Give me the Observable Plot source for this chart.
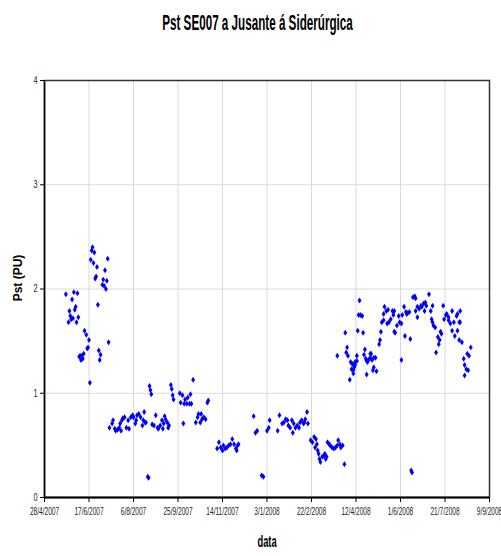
<!DOCTYPE html>
<html>
<head>
<meta charset="utf-8">
<script src="https://cdn.jsdelivr.net/npm/d3@7"></script>
<script src="https://cdn.jsdelivr.net/npm/@observablehq/plot@0.6"></script>
<style>
  body { margin: 0; background: #fff; }
</style>
</head>
<body>
<div id="chart"></div>
<script>
// Daily Pst readings, SE007 downstream of the steel mill.
// Days are counted from the first day of the campaign (28/4/2007).
const startDate = "2007-04-28";

// May – Jul 2007
const dayA = [24,27,28,29,30,31,32,33,34,35,36,37,38,39,40,41,42,43,44,45,47,48,49,50,51,52,53,54,55,56,57,58,59,60,61,62,63,65,66,67,68,69,70,71,72];
const pstA = [1.95,1.68,1.79,1.74,1.71,1.90,1.72,1.97,1.80,1.83,1.68,1.96,1.73,1.35,1.36,1.32,1.36,1.33,1.38,1.60,1.56,1.43,1.44,1.51,1.10,2.28,2.37,2.40,2.25,2.35,2.10,2.12,2.21,1.85,1.41,1.32,1.37,2.04,2.09,2.03,2.18,2.00,2.08,2.29,1.49];

// Jul – Oct 2007
const dayB = [73,76,77,79,80,82,84,85,86,87,88,90,92,94,95,97,99,100,102,103,104,106,108,110,111,112,113,114,116,117,118,119,120,121,123,125,127,128,130,132,133,134,135,136,138,139,140,142,143,144,145,152,153,155,156,157,158,160,161,163,164,165,167,170,172,173,175,176,177,179,181,183,184];
const pstB = [0.67,0.71,0.74,0.66,0.64,0.65,0.67,0.71,0.64,0.74,0.76,0.77,0.67,0.74,0.66,0.77,0.79,0.77,0.71,0.74,0.79,0.80,0.77,0.69,0.74,0.82,0.72,0.72,0.20,0.19,1.07,1.03,0.99,0.70,0.69,0.79,0.67,0.66,0.69,0.74,0.66,0.71,0.78,0.75,0.72,0.67,0.69,1.08,1.04,0.98,0.94,1.00,0.91,0.98,0.71,0.90,0.94,0.90,0.96,0.90,0.99,0.90,1.13,0.72,0.77,0.80,0.72,0.80,0.75,0.77,0.75,0.91,0.93];

// Nov 2007 – Mar 2008
const dayC = [194,196,198,200,201,203,205,207,209,211,213,215,216,217,218,235,237,239,244,246,250,252,253,262,264,267,269,271,273,274,276,278,279,280,282,284,286,287,289,291,292,293,295,296,299,301,303,304,305,306,307,308,309,310,312,314,315,316,317,318,320,321,323,325,327,329,330,332,333,335,337];
const pstC = [0.47,0.53,0.48,0.45,0.50,0.47,0.48,0.50,0.51,0.56,0.51,0.47,0.45,0.50,0.51,0.78,0.62,0.64,0.21,0.20,0.64,0.67,0.74,0.64,0.79,0.71,0.72,0.75,0.74,0.69,0.67,0.74,0.62,0.71,0.67,0.69,0.67,0.72,0.74,0.71,0.72,0.75,0.82,0.71,0.55,0.53,0.58,0.48,0.56,0.51,0.45,0.42,0.37,0.34,0.39,0.40,0.42,0.37,0.39,0.53,0.51,0.50,0.48,0.47,0.48,0.50,0.55,0.51,0.48,0.50,0.32];

// Mar – Aug 2008
const dayD = [329,338,339,340,341,343,344,345,346,347,347,348,349,349,351,351,352,353,354,355,357,358,359,360,361,362,362,363,364,366,366,367,368,369,370,370,372,373,376,377,378,379,381,381,382,384,385,386,387,389,391,392,393,393,394,396,398,399,401,401,402,404,405,406,407,408,410,411,412,413,414,416,417,417,419,419,421,423,424,426,427,428,429,432,434,435,436,436,437,439,440,442,443,444,445,446,448,449,451,452,454,454,456,458,458,460,461,463,464,464,466,466,467,467,469,471,472,472,474,475,476,477,479];
const pstD = [1.36,1.58,1.39,1.44,1.36,1.13,1.30,1.23,1.28,1.22,1.19,1.25,1.27,1.30,1.31,1.36,1.60,1.75,1.89,1.75,1.74,1.58,1.37,1.42,1.33,1.31,1.18,1.30,1.32,1.34,1.38,1.38,1.32,1.22,1.34,1.25,1.34,1.21,1.47,1.51,1.59,1.68,1.70,1.76,1.83,1.79,1.67,1.80,1.68,1.71,1.79,1.75,1.79,1.59,1.58,1.65,1.74,1.68,1.67,1.32,1.75,1.83,1.55,1.78,1.76,1.77,1.78,1.52,0.26,0.24,1.92,1.93,1.91,1.79,1.83,1.73,1.81,1.84,1.83,1.86,1.79,1.87,1.84,1.95,1.79,1.71,1.84,1.68,1.65,1.63,1.39,1.54,1.47,1.51,1.59,1.57,1.84,1.71,1.75,1.76,1.73,1.70,1.67,1.60,1.79,1.68,1.55,1.74,1.76,1.60,1.68,1.51,1.79,1.68,1.49,1.33,1.27,1.17,1.23,1.38,1.22,1.36,1.44];

// Axis ticks
const xTickLabels = ["28/4/2007","17/6/2007","6/8/2007","25/9/2007","14/11/2007","3/1/2008","22/2/2008","12/4/2008","1/6/2008","21/7/2008","9/9/2008"];
const yTicks = [0, 1, 2, 3, 4];

const titleText = "Pst SE007 a Jusante á Siderúrgica";
const xLabel = "data";
const yLabel = "Pst (PU)";

const parseDMY = (s) => { const [d, m, y] = s.split("/").map(Number); return new Date(Date.UTC(y, m - 1, d)); };
const fmtDMY = (d) => `${d.getUTCDate()}/${d.getUTCMonth() + 1}/${d.getUTCFullYear()}`;
const start = new Date(startDate + "T00:00:00Z");
const xTicks = xTickLabels.map(parseDMY);

const rows = [];
for (const [days, vals] of [[dayA, pstA], [dayB, pstB], [dayC, pstC], [dayD, pstD]]) {
  days.forEach((n, i) => rows.push({date: d3.utcDay.offset(start, n), pst: vals[i]}));
}

// Narrow, tall diamond marker
const tallDiamond = {
  draw(context, size) {
    const r = Math.sqrt(size / Math.PI);
    const w = r * 0.75, h = r * 1.15;
    context.moveTo(0, -h);
    context.lineTo(w, 0);
    context.lineTo(0, h);
    context.lineTo(-w, 0);
    context.closePath();
  }
};

const font = "'Liberation Sans', Arial, sans-serif";

const chart = Plot.plot({
  width: 501,
  height: 556,
  marginLeft: 44,
  marginRight: 12,
  marginTop: 80,
  marginBottom: 59,
  style: {fontFamily: font, background: "#fff", color: "#000"},
  x: {type: "utc", domain: [xTicks[0], xTicks[xTicks.length - 1]]},
  y: {domain: [0, 4]},
  marks: [
    Plot.gridX(xTicks, {stroke: "#d9d9d9", strokeOpacity: 1, strokeWidth: 1}),
    Plot.gridY([1, 2, 3], {stroke: "#d9d9d9", strokeOpacity: 1, strokeWidth: 1.2}),
    Plot.frame({stroke: "#333", strokeWidth: 1.5}),
    Plot.ruleY([0], {stroke: "#000", strokeWidth: 2}),
    Plot.ruleX([xTicks[0]], {stroke: "#000", strokeWidth: 1.5}),
    Plot.axisX({ticks: xTicks, tickFormat: fmtDMY, tickSize: 5, tickPadding: 4, fontSize: 11.5, fill: "#222", label: null}),
    Plot.axisY({ticks: yTicks, tickFormat: (d) => String(d), tickSize: 4, tickPadding: 3, fontSize: 10.5, fill: "#222", label: null}),
    Plot.dot(rows, {x: "date", y: "pst", symbol: tallDiamond, r: 2.6, fill: "#0000ff", stroke: null}),
    Plot.text([titleText], {frameAnchor: "top", lineAnchor: "middle", dx: -9.5, dy: -58, fontSize: 22, fontWeight: "bold"}),
    Plot.text([xLabel], {frameAnchor: "bottom", lineAnchor: "middle", dy: 44, fontSize: 16, fontWeight: "bold"}),
    Plot.text([yLabel], {frameAnchor: "left", textAnchor: "middle", lineAnchor: "middle", dx: -26.5, dy: -11, rotate: -90, fontSize: 12, fontWeight: "bold"})
  ]
});

document.getElementById("chart").append(chart);

// Condensed lettering: squeeze the horizontal texts to a narrower run length.
const squeezeFor = (s) =>
  s === titleText ? 0.53 :
  s === xLabel ? 0.58 :
  xTickLabels.includes(s) ? 0.57 :
  /^\d$/.test(s) ? 0.7 : null;
chart.querySelectorAll("text").forEach((t) => {
  const k = squeezeFor(t.textContent.trim());
  if (k == null) return;
  const len = t.getComputedTextLength();
  t.setAttribute("textLength", (len * k).toFixed(2));
  t.setAttribute("lengthAdjust", "spacingAndGlyphs");
});
</script>
</body>
</html>
